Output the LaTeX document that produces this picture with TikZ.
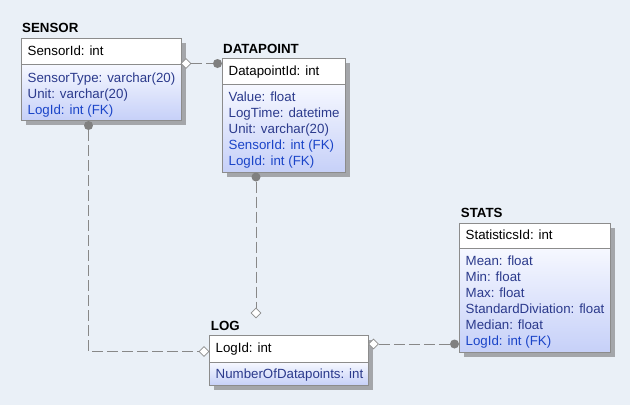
\documentclass[tikz,border=0pt]{standalone}
\usepackage{fontspec}
\setmainfont{Liberation Sans}
\usetikzlibrary{shapes.geometric}
\definecolor{bgc}{HTML}{EAF0F7}
\definecolor{borderc}{HTML}{8C8C8C}
\definecolor{shadowc}{HTML}{A4A6AA}
\definecolor{bodytop}{HTML}{F6F8FF}
\definecolor{bodybot}{HTML}{C6D0F8}
\definecolor{attrc}{HTML}{2B3A8C}
\definecolor{fkc}{HTML}{1A44C8}
\definecolor{connc}{HTML}{888888}
\definecolor{dotc}{HTML}{808080}
\tikzset{
  hdrbox/.style={draw=borderc, fill=white, anchor=north west, inner sep=0pt, line width=0.8pt},
  bodybox/.style={draw=borderc, top color=bodytop, bottom color=bodybot, anchor=north west, inner sep=0pt, line width=0.8pt},
  boxshadow/.style={fill=shadowc},
  ttl/.style={anchor=base west, inner sep=0pt, font=\fontsize{13.3}{16}\selectfont\bfseries},
  hdrtxt/.style={anchor=base west, inner sep=0pt, font=\fontsize{13.3}{16}\selectfont, text=black},
  attr/.style={anchor=base west, inner sep=0pt, font=\fontsize{13.3}{16}\selectfont, text=attrc},
  fk/.style={anchor=base west, inner sep=0pt, font=\fontsize{13.3}{16}\selectfont, text=fkc},
  diam/.style={diamond, draw=borderc, fill=white, minimum width=10pt, minimum height=10pt, inner sep=0pt, line width=0.8pt},
  enddot/.style={circle, fill=dotc, minimum size=9pt, inner sep=0pt},
  conn/.style={draw=connc, line width=1pt, dash pattern=on 11pt off 4pt},
}
\begin{document}
\begin{tikzpicture}[x=1pt,y=-1pt]
\useasboundingbox[fill=bgc] (0,0) rectangle (630,405);

% ---------- SENSOR ----------
\fill[boxshadow] (26,43) rectangle (186,125);
\node[hdrbox, minimum width=160pt, minimum height=26pt] (sensorH) at (21,38) {};
\node[bodybox, minimum width=160pt, minimum height=56pt] (sensorB) at (21,64) {};
\node[ttl] (sensorTitle) at (22,32.7) {SENSOR};
\node[hdrtxt] (sensorK) at (27.5,55) {SensorId: int};
\node[attr] (sensorA1) at (27.5,82) {SensorType: varchar(20)};
\node[attr] (sensorA2) at (27.5,98) {Unit: varchar(20)};
\node[fk] (sensorA3) at (27.5,114) {LogId: int (FK)};

% ---------- DATAPOINT ----------
\fill[boxshadow] (227,63) rectangle (350,177);
\node[hdrbox, minimum width=123pt, minimum height=26pt] (dpH) at (222,58) {};
\node[bodybox, minimum width=123pt, minimum height=88pt] (dpB) at (222,84) {};
\node[ttl] (dpTitle) at (223,53.3) {DATAPOINT};
\node[hdrtxt] (dpK) at (228.5,75) {DatapointId: int};
\node[attr] (dpA1) at (228.5,101.5) {Value: float};
\node[attr] (dpA2) at (228.5,117.5) {LogTime: datetime};
\node[attr] (dpA3) at (228.5,133.5) {Unit: varchar(20)};
\node[fk] (dpA4) at (228.5,149.5) {SensorId: int (FK)};
\node[fk] (dpA5) at (228.5,165.5) {LogId: int (FK)};

% ---------- STATS ----------
\fill[boxshadow] (464,228) rectangle (615,357);
\node[hdrbox, minimum width=151pt, minimum height=25pt] (stH) at (459,223) {};
\node[bodybox, minimum width=151pt, minimum height=104pt] (stB) at (459,248) {};
\node[ttl] (stTitle) at (460.7,217.3) {STATS};
\node[hdrtxt] (stK) at (465.5,239) {StatisticsId: int};
\node[attr] (stA1) at (465.5,265) {Mean: float};
\node[attr] (stA2) at (465.5,281) {Min: float};
\node[attr] (stA3) at (465.5,297) {Max: float};
\node[attr] (stA4) at (465.5,313) {StandardDiviation: float};
\node[attr] (stA5) at (465.5,329) {Median: float};
\node[fk] (stA6) at (465.5,345) {LogId: int (FK)};

% ---------- LOG ----------
\fill[boxshadow] (214,340) rectangle (373,390);
\node[hdrbox, minimum width=159pt, minimum height=27pt] (logH) at (209,335) {};
\node[bodybox, minimum width=159pt, minimum height=23pt] (logB) at (209,362) {};
\node[ttl] (logTitle) at (210.7,330) {LOG};
\node[hdrtxt] (logK) at (215.5,352) {LogId: int};
\node[attr] (logA1) at (215.5,378) {NumberOfDatapoints: int};

% ---------- connector ends ----------
\node[diam] (d1) at (186,63.5) {};
\node[enddot] (c1) at (217.5,63.5) {};
\node[enddot] (c2) at (88.5,125.5) {};
\node[diam] (d2) at (204,351.5) {};
\node[enddot] (c3) at (256,177) {};
\node[diam] (d3) at (256,313) {};
\node[diam] (d4) at (373.5,344) {};
\node[enddot] (c4) at (454.5,344) {};

% ---------- connectors ----------
\draw[conn] (d1) -- (c1);
\draw[conn] (c2) |- (d2);
\draw[conn] (c3) -- (d3);
\draw[conn] (d4) -- (c4);
\end{tikzpicture}
\end{document}
